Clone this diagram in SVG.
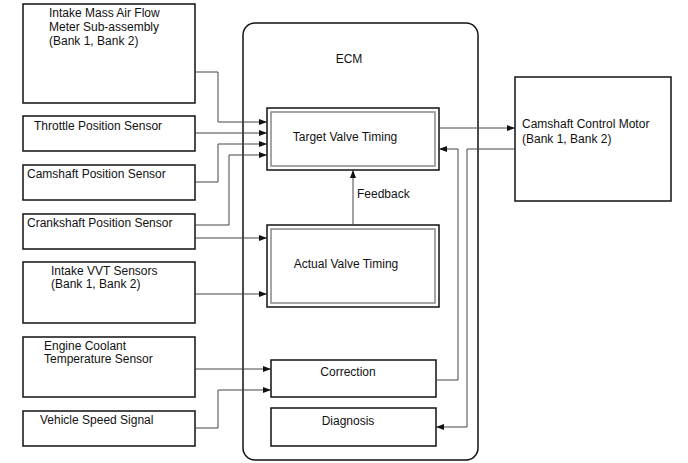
<svg xmlns="http://www.w3.org/2000/svg" width="688" height="463" viewBox="0 0 688 463">
<style>
text{font-family:"Liberation Sans",Arial,sans-serif;font-size:12px;fill:#111}
.box{fill:#fff;stroke:#111;stroke-width:1.5}
.inner{fill:none;stroke:#888;stroke-width:1.5}
.c{fill:none;stroke:#444;stroke-width:1}
.ca{fill:none;stroke:#444;stroke-width:1;marker-end:url(#ah)}
.m{text-anchor:middle}
</style>
<defs>
<marker id="ah" markerUnits="userSpaceOnUse" markerWidth="10" markerHeight="8" refX="8" refY="3" orient="auto">
<path d="M0,0 L8,3 L0,6 Z" fill="#111"/>
</marker>
</defs>
<rect width="688" height="463" fill="#fff"/>
<g id="ecm">
<rect class="box" x="243" y="23" width="235" height="437" rx="12"/>
<text x="349" y="63" class="m">ECM</text>
</g>
<g id="maf">
<rect class="box" x="23" y="4" width="172" height="99"/>
<text x="49" y="17">Intake Mass Air Flow</text>
<text x="49" y="31">Meter Sub-assembly</text>
<text x="49" y="45">(Bank 1, Bank 2)</text>
</g>
<g id="tps">
<rect class="box" x="23" y="116" width="172" height="35"/>
<text x="34" y="130">Throttle Position Sensor</text>
</g>
<g id="cps">
<rect class="box" x="23" y="165" width="172" height="35"/>
<text x="27" y="178">Camshaft Position Sensor</text>
</g>
<g id="ckp">
<rect class="box" x="23" y="214" width="172" height="35"/>
<text x="27" y="227">Crankshaft Position Sensor</text>
</g>
<g id="vvt">
<rect class="box" x="23" y="262" width="172" height="61"/>
<text x="51" y="275">Intake VVT Sensors</text>
<text x="51" y="288">(Bank 1, Bank 2)</text>
</g>
<g id="ect">
<rect class="box" x="23" y="337" width="172" height="60"/>
<text x="44" y="350">Engine Coolant</text>
<text x="44" y="363">Temperature Sensor</text>
</g>
<g id="vss">
<rect class="box" x="23" y="411" width="172" height="35"/>
<text x="40" y="424">Vehicle Speed Signal</text>
</g>
<g id="target">
<rect class="box" x="267" y="108" width="172" height="62"/>
<rect class="inner" x="271" y="112" width="164" height="54"/>
<text x="345" y="141" class="m">Target Valve Timing</text>
</g>
<g id="actual">
<rect class="box" x="267" y="225" width="172" height="82"/>
<rect class="inner" x="271" y="229" width="164" height="74"/>
<text x="346" y="268" class="m">Actual Valve Timing</text>
</g>
<g id="correction">
<rect class="box" x="271" y="360" width="165" height="37"/>
<text x="348" y="376" class="m">Correction</text>
</g>
<g id="diagnosis">
<rect class="box" x="271" y="408" width="165" height="38"/>
<text x="348" y="425" class="m">Diagnosis</text>
</g>
<g id="motor">
<rect class="box" x="515" y="77" width="156" height="124"/>
<text x="522" y="128">Camshaft Control Motor</text>
<text x="522" y="143">(Bank 1, Bank 2)</text>
</g>
<g id="connectors">
<polyline class="ca" points="195,72 218,72 218,122 267,122"/>
<polyline class="ca" points="195,133 267,133"/>
<polyline class="ca" points="195,182 218,182 218,144 267,144"/>
<polyline class="ca" points="195,225 229,225 229,155 267,155"/>
<polyline class="ca" points="195,238 267,238"/>
<polyline class="ca" points="195,294 267,294"/>
<polyline class="ca" points="195,369 271,369"/>
<polyline class="ca" points="195,428 218,428 218,390 271,390"/>
<polyline class="ca" points="353,225 353,170"/>
<text x="357" y="198">Feedback</text>
<polyline class="ca" points="439,128 515,128"/>
<polyline class="ca" points="436,380 458,380 458,149 439,149"/>
<polyline class="ca" points="515,149 467,149 467,427 436,427"/>
</g>
</svg>
